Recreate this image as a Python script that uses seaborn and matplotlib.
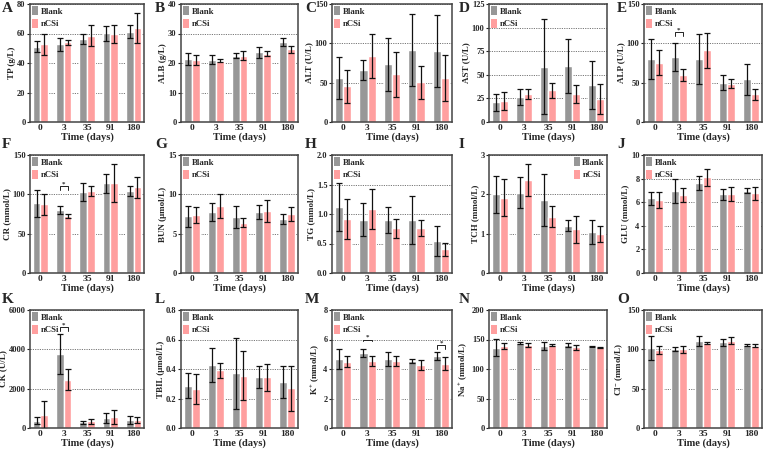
import matplotlib
matplotlib.use("Agg")
import matplotlib.pyplot as plt
import seaborn as sns
import pandas as pd
from matplotlib.patches import Patch

days = ["0", "3", "35", "91", "180"]
groups = ["Blank", "nCSi"]

tp_blank = [51, 52.7, 56.2, 60.1, 61.3]
tp_blank_err = [3.7, 4.4, 3.5, 5.3, 4.6]
tp_ncsi = [52.7, 53.9, 58.5, 59.7, 63.8]
tp_ncsi_err = [7, 1.5, 7, 6.2, 10.4]

alb_blank = [21.3, 21.1, 22.5, 23.6, 27.0]
alb_blank_err = [2.1, 1.5, 0.9, 1.9, 1.4]
alb_ncsi = [21.1, 20.8, 22.5, 23.1, 24.7]
alb_ncsi_err = [1.7, 0.6, 1.4, 0.8, 1.2]

alt_blank = [55.7, 66.2, 73.3, 91.3, 90]
alt_blank_err = [27, 12.6, 34, 46, 46]
alt_ncsi = [45.2, 83.8, 60.7, 50.7, 55.7]
alt_ncsi_err = [21, 27.6, 28.5, 21, 29.3]

ast_blank = [21, 26.2, 58.7, 59.4, 39.5]
ast_blank_err = [9, 8.7, 50, 28.3, 25.5]
ast_ncsi = [22, 29.7, 33.5, 30, 24.4]
ast_ncsi_err = [9.4, 5.2, 7.7, 9.5, 15.8]

alp_blank = [80.5, 82.6, 80.5, 50, 54.2]
alp_blank_err = [25.5, 18.2, 32, 9.7, 20]
alp_ncsi = [75.4, 59.3, 91.1, 48.7, 35.2]
alp_ncsi_err = [16, 7.6, 22.5, 5.5, 7.2]

cr_blank = [88.4, 79.9, 102.4, 113.9, 104.5]
cr_blank_err = [17, 5.1, 11.5, 12, 6.4]
cr_ncsi = [87.1, 72.2, 104.1, 113.9, 108.8]
cr_ncsi_err = [12.8, 2.2, 6.8, 24.2, 13.6]

bun_blank = [7.2, 7.8, 7.1, 7.8, 6.9]
bun_blank_err = [1.3, 1.15, 1.4, 0.9, 0.65]
bun_ncsi = [7.35, 8.5, 6.4, 7.9, 7.5]
bun_ncsi_err = [1.05, 1.5, 0.55, 1.4, 0.9]

tg_blank = [1.12, 0.9, 0.9, 0.9, 0.54]
tg_blank_err = [0.4, 0.28, 0.22, 0.41, 0.25]
tg_ncsi = [0.92, 1.08, 0.76, 0.76, 0.4]
tg_ncsi_err = [0.34, 0.34, 0.16, 0.13, 0.11]

tch_blank = [2.0, 2.04, 1.85, 1.2, 1.04]
tch_blank_err = [0.47, 0.39, 0.66, 0.14, 0.3]
tch_ncsi = [1.91, 2.36, 1.43, 1.11, 1.0]
tch_ncsi_err = [0.47, 0.41, 0.27, 0.34, 0.2]

glu_blank = [6.32, 6.94, 7.65, 6.66, 6.97]
glu_blank_err = [0.56, 1.0, 0.6, 0.5, 0.2]
glu_ncsi = [6.18, 6.6, 8.1, 6.66, 6.74]
glu_ncsi_err = [0.7, 0.57, 0.7, 0.6, 0.56]

ck_blank = [372, 3752, 287, 507, 389]
ck_blank_err = [186, 1014, 85, 253, 203]
ck_ncsi = [642, 2450, 338, 558, 389]
ck_ncsi_err = [710, 540, 118, 338, 152]

tbil_blank = [0.288, 0.428, 0.372, 0.347, 0.311]
tbil_blank_err = [0.084, 0.117, 0.24, 0.074, 0.11]
tbil_ncsi = [0.264, 0.39, 0.354, 0.343, 0.268]
tbil_ncsi_err = [0.104, 0.054, 0.165, 0.09, 0.153]

k_blank = [4.66, 5.07, 4.66, 4.55, 4.89]
k_blank_err = [0.68, 0.27, 0.47, 0.14, 0.25]
k_ncsi = [4.5, 4.55, 4.55, 4.28, 4.35]
k_ncsi_err = [0.35, 0.36, 0.34, 0.34, 0.45]

na_blank = [136.3, 143.7, 139.2, 140.8, 138]
na_blank_err = [14, 1.7, 7.3, 2.9, 0.6]
na_ncsi = [139.7, 140.8, 140.8, 136.9, 136.9]
na_ncsi_err = [5, 4, 2.3, 3.9, 1.1]

cl_blank = [102.2, 100.1, 110.7, 109, 105.6]
cl_blank_err = [15.2, 2.5, 6.8, 4.2, 1.3]
cl_ncsi = [99.3, 100.1, 107.7, 111.1, 104.8]
cl_ncsi_err = [5.5, 4.3, 1.3, 4.2, 2.1]

letters = list("ABCDEFGHIJKLMNO")
ylabels = ["TP (g/L)", "ALB (g/L)", "ALT (U/L)", "AST (U/L)", "ALP (U/L)",
           "CR (mmol/L)", "BUN (\u03bcmol/L)", "TG (mmol/L)", "TCH (mmol/L)", "GLU (mmol/L)",
           "CK (U/L)", "TBIL (\u03bcmol/L)", r"K$^{\mathbf{+}}$ (mmol/L)",
           r"Na$^{\mathbf{+}}$ (mmol/L)", r"Cl$^{\mathbf{-}}$ (mmol/L)"]
yticks_list = [[0, 20, 40, 60, 80], [0, 10, 20, 30, 40], [0, 50, 100, 150],
               [0, 25, 50, 75, 100, 125], [0, 50, 100, 150],
               [0, 50, 100, 150], [0, 5, 10, 15], [0.0, 0.5, 1.0, 1.5, 2.0],
               [0, 1, 2, 3], [0, 2, 4, 6, 8, 10],
               [0, 2000, 4000, 6000], [0.0, 0.2, 0.4, 0.6, 0.8], [0, 2, 4, 6, 8],
               [0, 50, 100, 150, 200], [0, 50, 100, 150]]
tick_fmt = [None] * 15
tick_fmt[7] = "{:.1f}"
tick_fmt[11] = "{:.1f}"

series = [
    (tp_blank, tp_blank_err, tp_ncsi, tp_ncsi_err),
    (alb_blank, alb_blank_err, alb_ncsi, alb_ncsi_err),
    (alt_blank, alt_blank_err, alt_ncsi, alt_ncsi_err),
    (ast_blank, ast_blank_err, ast_ncsi, ast_ncsi_err),
    (alp_blank, alp_blank_err, alp_ncsi, alp_ncsi_err),
    (cr_blank, cr_blank_err, cr_ncsi, cr_ncsi_err),
    (bun_blank, bun_blank_err, bun_ncsi, bun_ncsi_err),
    (tg_blank, tg_blank_err, tg_ncsi, tg_ncsi_err),
    (tch_blank, tch_blank_err, tch_ncsi, tch_ncsi_err),
    (glu_blank, glu_blank_err, glu_ncsi, glu_ncsi_err),
    (ck_blank, ck_blank_err, ck_ncsi, ck_ncsi_err),
    (tbil_blank, tbil_blank_err, tbil_ncsi, tbil_ncsi_err),
    (k_blank, k_blank_err, k_ncsi, k_ncsi_err),
    (na_blank, na_blank_err, na_ncsi, na_ncsi_err),
    (cl_blank, cl_blank_err, cl_ncsi, cl_ncsi_err),
]

# significance brackets: panel index -> list of (group index, y, leg)
brackets = {4: [(1, 114, 5)], 5: [(1, 110, 5)], 10: [(1, 5120, 170)],
            12: [(1, 6.0, 0.12), (4, 5.6, 0.25)]}

sns.set_theme(style="white")
plt.rcParams['font.family'] = ['Liberation Serif', 'DejaVu Serif']
plt.rcParams['font.weight'] = 'bold'
plt.rcParams['axes.labelweight'] = 'bold'
plt.rcParams['mathtext.fontset'] = 'custom'
plt.rcParams['mathtext.rm'] = 'Liberation Serif'
plt.rcParams['mathtext.bf'] = 'Liberation Serif:bold'
plt.rcParams['mathtext.it'] = 'Liberation Serif:italic'

W, H = 764, 449
fig = plt.figure(figsize=(W / 100, H / 100), dpi=100)

cols = [(30, 144), (181, 298), (332, 452), (489, 607), (644, 762)]
rows = [(4, 122), (155, 273), (310, 428)]
letter_x = [2, 155, 305, 459, 617]
letter_base = [12, 148, 303]

gray = "#979797"
pink = "#FF9F9F"
palette = {"Blank": gray, "nCSi": pink}

for idx in range(15):
    r, c = divmod(idx, 5)
    x0, x1 = cols[c]
    y0, y1 = rows[r]
    ax = fig.add_axes([x0 / W, 1 - y1 / H, (x1 - x0) / W, (y1 - y0) / H])
    b, be, n, ne = series[idx]
    df = pd.DataFrame({
        "day": days * 2,
        "group": ["Blank"] * 5 + ["nCSi"] * 5,
        "value": list(b) + list(n),
    })
    sns.barplot(data=df, x="day", y="value", hue="group", order=days,
                hue_order=groups, palette=palette, width=0.66, errorbar=None,
                saturation=1, legend=False, ax=ax)
    centers = {}
    for g, cont, errs in zip(groups, ax.containers, (be, ne)):
        xs = [p.get_x() + p.get_width() / 2 for p in cont.patches]
        hs = [p.get_height() for p in cont.patches]
        centers[g] = xs
        ax.errorbar(xs, hs, yerr=errs, fmt="none", ecolor="#111111",
                    elinewidth=0.9, capsize=2.2, capthick=0.9, zorder=5)
    yt = yticks_list[idx]
    ax.set_ylim(yt[0], yt[-1])
    ax.set_xlim(-0.45, 4.45)
    ax.set_yticks(yt)
    if tick_fmt[idx]:
        ax.set_yticklabels([tick_fmt[idx].format(v) for v in yt])
    else:
        ax.set_yticklabels([str(v) for v in yt])
    ax.yaxis.grid(True, linestyle=(0, (1.2, 1.2)), color="#777777", linewidth=0.7)
    ax.set_axisbelow(True)
    ax.tick_params(axis="y", left=True, length=2.2, width=0.8, pad=1.0,
                   labelsize=6.0, color="#222222")
    ax.tick_params(axis="x", bottom=False, length=0, pad=1.5, labelsize=6.8)
    for lab in ax.get_xticklabels() + ax.get_yticklabels():
        lab.set_fontweight("bold")
    ax.set_xlabel("Time (days)", fontsize=7.5, fontweight="bold", labelpad=0)
    ax.set_ylabel(ylabels[idx], fontsize=6.5, fontweight="bold", labelpad=1.0)
    for s in ax.spines.values():
        s.set_color("#444444")
        s.set_linewidth(1.1)
    handles = [Patch(facecolor=gray, edgecolor="none"),
               Patch(facecolor=pink, edgecolor="none")]
    loc = "upper right" if idx == 8 else "upper left"
    ax.legend(handles, groups, loc=loc, frameon=False,
              handlelength=0.7, handleheight=1.2, handletextpad=0.3,
              labelspacing=0.35, borderaxespad=0.1, borderpad=0.15,
              prop={"weight": "bold", "size": 6.3})
    for (gi, yb, leg) in brackets.get(idx, []):
        xa = centers["Blank"][gi]
        xb = centers["nCSi"][gi]
        ax.plot([xa, xa, xb, xb], [yb - leg, yb, yb, yb - leg],
                color="#222222", lw=0.7, zorder=6)
        ax.text((xa + xb) / 2, yb, "*", ha="center", va="bottom",
                fontsize=5.0, fontweight="bold")
    fig.text(letter_x[c] / W, 1 - letter_base[r] / H, letters[idx],
             fontsize=11, fontweight="bold", ha="left", va="baseline")

fig.savefig("out.png", dpi=100)
